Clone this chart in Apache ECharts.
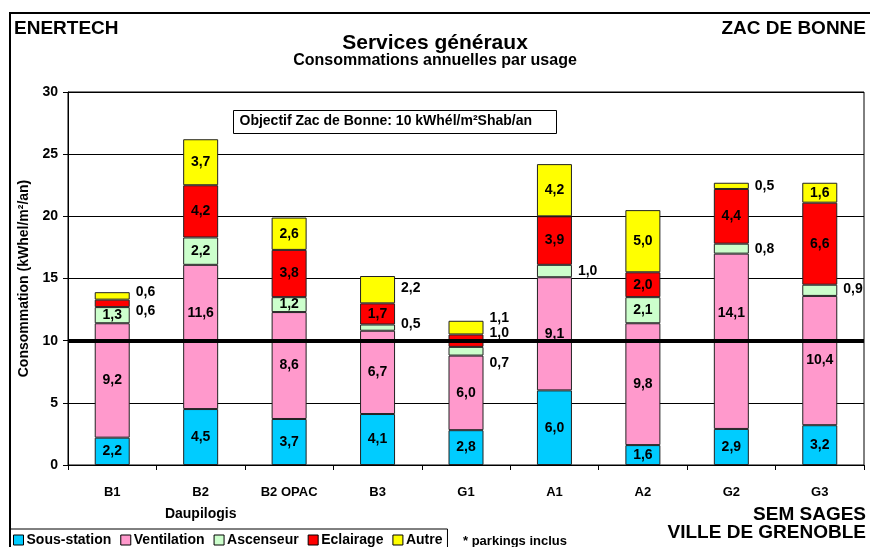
<!DOCTYPE html>
<html>
<head>
<meta charset="utf-8">
<title>Services généraux</title>
<script src="https://cdn.jsdelivr.net/npm/echarts@6/dist/echarts.min.js"></script>
<style>
  html, body { margin: 0; padding: 0; background: #fff; }
  #chart { width: 870px; height: 547px; }
</style>
</head>
<body>
<div id="chart"></div>
<script>
// categories and sub-labels
var sites = ['B1', 'B2', 'B2 OPAC', 'B3', 'G1', 'A1', 'A2', 'G2', 'G3'];
var subLabels = ['', 'Daupilogis', '', '', '', '', '', '', ''];

// kWhel/m²/an by usage
var sousStation = [2.2, 4.5, 3.7, 4.1, 2.8, 6.0, 1.6, 2.9, 3.2];
var ventilation = [9.2, 11.6, 8.6, 6.7, 6.0, 9.1, 9.8, 14.1, 10.4];
var ascenseur   = [1.3, 2.2, 1.2, 0.5, 0.7, 1.0, 2.1, 0.8, 0.9];
var eclairage   = [0.6, 4.2, 3.8, 1.7, 1.0, 3.9, 2.0, 4.4, 6.6];
var autre       = [0.6, 3.7, 2.6, 2.2, 1.1, 4.2, 5.0, 0.5, 1.6];

var objectif = 10;
var yTicks = [0, 5, 10, 15, 20, 25, 30];

var chart = echarts.init(document.getElementById('chart'));
var font = 'Liberation Sans, Arial, sans-serif';

// labels drawn beside the bar (value = vertical nudge)
var outside = {
  'Eclairage-0': 8, 'Autre-0': -4,
  'Ascenseur-3': -3, 'Autre-3': -2,
  'Ascenseur-4': 12, 'Eclairage-4': -8, 'Autre-4': -9,
  'Ascenseur-5': 0,
  'Ascenseur-7': 0, 'Autre-7': 0,
  'Ascenseur-8': -1
};
// inside labels moved off the objective line
var lifted = { 'Ventilation-1': -24, 'Ventilation-7': -28 };

function fmt(v) { return v.toFixed(1).replace('.', ','); }

function makeSeries(name, values, color) {
  return {
    name: name,
    type: 'bar',
    stack: 'total',
    barWidth: 35,
    itemStyle: { color: color, borderColor: '#222', borderWidth: 1 },
    label: {
      show: true, position: 'inside', color: '#000',
      fontFamily: font, fontWeight: 'bold', fontSize: 14,
      formatter: function (p) { return fmt(p.value); }
    },
    data: values.map(function (v, i) {
      var key = name + '-' + i;
      if (key in outside) {
        return { value: v, label: { position: 'right', distance: 6, offset: [0, outside[key]] } };
      }
      if (key in lifted) {
        return { value: v, label: { offset: [0, lifted[key]] } };
      }
      return v;
    })
  };
}

var option = {
  animation: false,
  backgroundColor: '#fff',
  textStyle: { fontFamily: font },
  grid: { left: 68, right: 6, top: 92, bottom: 82, show: true, borderColor: '#000', borderWidth: 1 },
  legend: {
    data: ['Sous-station', 'Ventilation', 'Ascenseur', 'Eclairage', 'Autre'],
    left: 10, top: 529,
    itemWidth: 10, itemHeight: 10, itemGap: 9,
    padding: [4, 5, 6, 3],
    borderColor: '#000', borderWidth: 1,
    icon: 'rect',
    itemStyle: { borderColor: '#000', borderWidth: 1 },
    textStyle: { fontFamily: font, fontWeight: 'bold', fontSize: 14, color: '#000', padding: [0, 0, 0, -2] }
  },
  xAxis: {
    type: 'category',
    data: sites,
    axisLine: { lineStyle: { color: '#000' } },
    axisTick: { show: true, length: 5, lineStyle: { color: '#000' } },
    axisLabel: {
      interval: 0,
      color: '#000', fontFamily: font, fontWeight: 'bold', fontSize: 13,
      margin: 16, lineHeight: 22,
      formatter: function (v, i) { return subLabels[i] ? v + '\n{sub|' + subLabels[i] + '}' : v; },
      rich: { sub: { fontFamily: font, fontWeight: 'bold', fontSize: 14, color: '#000' } }
    }
  },
  yAxis: {
    type: 'value',
    min: yTicks[0], max: yTicks[yTicks.length - 1], interval: 5,
    name: 'Consommation (kWhel/m²/an)',
    nameLocation: 'middle', nameRotate: 90, nameGap: 28,
    nameTextStyle: { color: '#000', fontFamily: font, fontWeight: 'bold', fontSize: 14 },
    axisLine: { show: true, lineStyle: { color: '#000' } },
    axisTick: { show: true, length: 5, lineStyle: { color: '#000' } },
    axisLabel: { color: '#000', fontFamily: font, fontWeight: 'bold', fontSize: 14, margin: 10 },
    splitLine: { lineStyle: { color: '#000', width: 1 } }
  },
  series: [
    makeSeries('Sous-station', sousStation, '#00CCFF'),
    makeSeries('Ventilation', ventilation, '#FF99CC'),
    makeSeries('Ascenseur', ascenseur, '#CCFFCC'),
    makeSeries('Eclairage', eclairage, '#FF0000'),
    makeSeries('Autre', autre, '#FFFF00'),
    {
      name: 'objectif', type: 'line', data: [], z: 10,
      markLine: {
        silent: true, symbol: 'none', label: { show: false },
        lineStyle: { color: '#000', width: 4, type: 'solid' },
        data: [{ yAxis: objectif }]
      }
    }
  ],
  graphic: [
    { type: 'polyline', shape: { points: [[10, 547], [10, 13], [870, 13]] }, style: { stroke: '#000', lineWidth: 2, fill: null } },
    { type: 'text', left: 14, top: 19, style: { text: 'ENERTECH', font: 'bold 19px ' + font, fill: '#000' } },
    { type: 'text', right: 4, top: 19, style: { text: 'ZAC DE BONNE', font: 'bold 19px ' + font, fill: '#000' } },
    { type: 'text', left: 'center', top: 33, style: { text: 'Services généraux', font: 'bold 21px ' + font, fill: '#000' } },
    { type: 'text', left: 'center', top: 53, style: { text: 'Consommations annuelles par usage', font: 'bold 16px ' + font, fill: '#000' } },
    {
      type: 'group', left: 233, top: 110,
      children: [
        { type: 'rect', shape: { x: 0, y: 0, width: 323, height: 23 }, style: { fill: '#fff', stroke: '#000', lineWidth: 1 } },
        { type: 'text', x: 6, y: 4, style: { text: 'Objectif Zac de Bonne: 10 kWhél/m²Shab/an', font: 'bold 14px ' + font, fill: '#000' } }
      ]
    },
    { type: 'text', right: 4, top: 505, style: { text: 'SEM SAGES', font: 'bold 19px ' + font, fill: '#000' } },
    { type: 'text', right: 4, top: 523, style: { text: 'VILLE DE GRENOBLE', font: 'bold 19px ' + font, fill: '#000' } },
    { type: 'text', left: 463, top: 535, style: { text: '* parkings inclus', font: 'bold 13px ' + font, fill: '#000' } }
  ]
};

chart.setOption(option);
</script>
</body>
</html>
